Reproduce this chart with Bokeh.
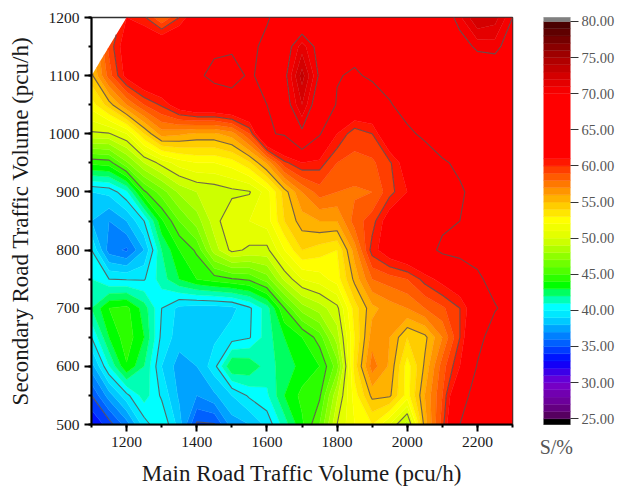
import numpy as np
from bokeh.plotting import figure
from bokeh.embed import file_html
from bokeh.resources import INLINE
from bokeh.models import SingleIntervalTicker, FixedTicker, Label, CustomJSTickFormatter, Range1d
from bokeh.core.properties import value

nan = float("nan")
x_values = list(range(1100, 2301, 50))
y_values = list(range(500, 1201, 50))

s_500 = [33,34.5,36.5,39.5,41,38.5,34.8,34.9,37.5,38,39.3,41.5,43.8,46,50,52,53,51,48.5,55.5,59.5,65,66.5,67,67]
s_550 = [35,37.5,39.7,41.5,39.8,37.8,37,37.8,39,40.2,40.8,43,44.3,44.8,48.8,52.5,55.3,55.2,52.5,56,59,63.5,66.5,67,67]
s_600 = [37.5,41,43.9,42,39,37.5,38,39.6,43,42.8,41.5,42.5,43.3,44,46.5,53.5,57.5,55.8,52.5,55.2,58.5,61,65.2,67,67]
s_650 = [40,43,44.6,43,39.7,38.5,38.5,38.8,39.5,39.9,41.5,43,44,45.5,48.5,53,56.5,56,54,54.7,57,60,64,66.5,67]
s_700 = [42,44,44.3,42.5,40,38.7,38.5,38.5,38.7,39.8,41.5,45,47.5,48.5,49.7,53.5,55.7,56.5,57,58,58.8,60,62.5,64.8,66]
s_750 = [41,40,39.9,39.9,41.5,43,44,44.5,44.9,45.2,46.5,49.2,51,51.5,52.5,55.3,58,58.5,59,60.4,61.5,62.5,64.5,66,67]
s_800 = [40,36.5,35.8,38,42,44,45.2,48.5,50.3,49.8,49.7,52,54,53.5,53,56.5,60.5,62,63,64,65.5,66,66,67,67]
s_850 = [38,37,38,40,43.8,46,47.5,49.5,51,51,51.5,54,55.5,56,56,58.5,59.5,62,63,64,64.5,65,66,67,67]
s_900 = [39,39.3,40.8,44.8,46.5,48.2,49,49.3,49.7,49.9,51.5,54.5,57,58.5,58,57.8,58,59.6,61,62.5,64,64.8,65.5,67,67]
s_950 = [44.3,44.5,46.8,49,50.4,51.5,52,52,52.5,53.8,56.2,59.7,61,60.5,59,58.8,58.8,59.8,62,63.5,64.8,65.3,66.5,67,67]
s_1000 = [49.8,49.9,51,54,56.5,56.2,55.8,55.8,56.5,59,64.7,65.3,69.6,65.3,61,59.3,60,63,64.5,65.5,66,66,66.5,67,67]
s_1050 = [52.5,54.5,57,59,60.2,62,63,63,63.5,64,65,69,72,68.5,64.7,63,63,64.8,66,66,66.5,67,67.5,68,68]
s_1100 = [54.7,58.5,61.5,63,63.5,64,64.5,65.7,66.1,64.6,66,69.5,73.5,69.7,65.2,64.6,65.5,66,66.5,67,67,67.5,68,68.5,68.5]
s_1150 = [nan,59.3,62,63,63,63.5,64,64.5,64.6,64.5,65.5,69,71.5,69.3,66.5,66,66.5,67,68,68,68,69,70.4,70.5,69]
s_1200 = [nan,nan,61,60.2,58,60,62.5,63.5,64,64.5,64.8,66,68,68,67.5,67.5,68,68.5,69.5,69.6,68.5,70.8,73,72.5,70]

line_levels = [35, 40, 45, 50, 55, 60, 65, 70]
bar_ticks = [25, 30, 35, 40, 45, 50, 55, 60, 65, 70, 75, 80]

z = np.array([s_500, s_550, s_600, s_650, s_700, s_750, s_800, s_850, s_900,
              s_950, s_1000, s_1050, s_1100, s_1150, s_1200])
x, y = np.meshgrid(x_values, y_values)

stops = [(25, "#500050"), (27, "#6a0090"), (30, "#7800d0"), (33, "#0000ff"), (35, "#0050ff"),
         (37, "#0090ff"), (39, "#00ddff"), (40.5, "#00ffff"), (42, "#00ff90"), (43.5, "#00ff00"),
         (45, "#40ff00"), (50, "#ddff00"), (52.5, "#ffff00"), (55, "#ffc000"), (60, "#ff3000"),
         (61, "#ff0000"), (70, "#ff0000"), (75, "#a80000"), (80, "#400000")]
sv = [s[0] for s in stops]
rgb = np.array([[int(s[1][i:i + 2], 16) for i in (1, 3, 5)] for s in stops], float)


def band_colour(v):
    return "#%02x%02x%02x" % tuple(int(round(np.interp(v, sv, rgb[:, k]))) for k in range(3))


levels = [24.2] + list(range(25, 62)) + list(range(70, 81)) + [80.55]
mids = [(a + b) / 2 for a, b in zip(levels[1:-2], levels[2:-1])]
fills = ["#000000"] + [band_colour(v) for v in mids] + ["#808080"]
seam_colours = fills + ["#808080"]

p = figure(width=617, height=493, output_backend="svg", toolbar_location=None,
           x_range=Range1d(1100, 2300), y_range=Range1d(500, 1200), margin=(-5, 0, 0, 0),
           min_border_left=91, min_border_top=18, min_border_bottom=64, min_border_right=95,
           background_fill_color="white", outline_line_color="#303030", outline_line_width=1.5)
p.grid.visible = False

cr = p.contour(x, y, z, levels=levels, fill_color=fills, line_color=seam_colours, line_width=0.6)
p.contour(x, y, z, levels=line_levels, fill_color=None, line_color="#5a5050", line_width=1.1, line_alpha=0.85)

font = "Liberation Serif"
for ax, lab, tick, standoff in ((p.xaxis[0], "Main Road Traffic Volume (pcu/h)", SingleIntervalTicker(interval=200, num_minor_ticks=2), 11),
                                (p.yaxis[0], "Secondary Road Traffic Volume (pcu/h)", SingleIntervalTicker(interval=100, num_minor_ticks=2), 13)):
    ax.ticker = tick
    ax.axis_label = lab
    ax.axis_label_text_font = font
    ax.axis_label_text_font_size = "23px"
    ax.axis_label_text_font_style = "normal"
    ax.axis_label_text_color = "#1a1a1a"
    ax.axis_label_standoff = standoff
    ax.major_label_text_font = font
    ax.major_label_text_font_size = "15.5px"
    ax.major_label_text_color = "#1a1a1a"
    ax.axis_line_color = "black"
    ax.axis_line_width = 2
    ax.major_tick_line_color = "black"
    ax.major_tick_line_width = 2
    ax.major_tick_out = 7
    ax.major_tick_in = 0
    ax.minor_tick_line_color = "black"
    ax.minor_tick_line_width = 2
    ax.minor_tick_out = 3
    ax.minor_tick_in = 0

cb = cr.construct_color_bar(width=27,
                            major_label_text_font=font, major_label_text_font_size="14.5px",
                            major_label_text_color="#555555", major_tick_line_color="#333333",
                            major_tick_out=8, major_tick_in=0, minor_tick_out=0,
                            bar_line_color="#555555", bar_line_width=1,
                            margin=0, padding=0, label_standoff=3)
cb.ticker = FixedTicker(ticks=bar_ticks)
cb.formatter = CustomJSTickFormatter(code="return tick.toFixed(2)")
cb.location = (31, 0)
p.add_layout(cb, "right")

p.add_layout(Label(x=2425, y=462, text="S/%",
                   text_font=font, text_font_size="20px", text_color="#555555",
                   text_align="center", text_baseline="middle"), "above")

open("out.html", "w").write(file_html(p, INLINE))
